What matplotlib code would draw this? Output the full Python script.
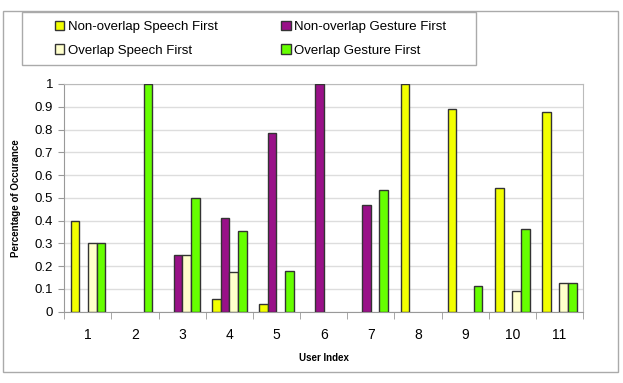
import numpy as np
import matplotlib
matplotlib.use("Agg")
import matplotlib.pyplot as plt
from matplotlib.patches import Patch, Rectangle

plt.rcParams['font.family'] = ['Liberation Sans', 'DejaVu Sans']

# data
users = ['1', '2', '3', '4', '5', '6', '7', '8', '9', '10', '11']
nonoverlap_speech = [0.4, 0, 0, 0.056, 0.034, 0, 0, 1.0, 0.889, 0.545, 0.875]
nonoverlap_gesture = [0, 0, 0.25, 0.412, 0.786, 1.0, 0.467, 0, 0, 0, 0]
overlap_speech = [0.3, 0, 0.25, 0.176, 0, 0, 0, 0, 0, 0.091, 0.125]
overlap_gesture = [0.3, 1.0, 0.5, 0.353, 0.179, 0, 0.533, 0, 0.111, 0.364, 0.125]

series = [nonoverlap_speech, nonoverlap_gesture, overlap_speech, overlap_gesture]
names = ['Non-overlap Speech First', 'Non-overlap Gesture First',
         'Overlap Speech First', 'Overlap Gesture First']
colors = ['#F2FF00', '#991188', '#FFFFCC', '#66FF00']

fig = plt.figure(figsize=(6.23, 3.83), dpi=100)
ax = fig.add_axes([0.1032, 0.1862, 0.8326, 0.5945])

x = np.arange(len(users))
w = 0.184
for i, (vals, c) in enumerate(zip(series, colors)):
    vals = np.array(vals)
    m = vals > 0
    ax.bar(x[m] + (i - 1.5) * w, vals[m], w, color=c, edgecolor='#333333',
           linewidth=1.0, zorder=3)

ax.set_xlim(-0.5, len(users) - 0.5)
ax.set_ylim(0, 1)
ax.set_yticks(np.arange(0, 1.01, 0.1))
ax.set_yticklabels(['0', '0.1', '0.2', '0.3', '0.4', '0.5', '0.6', '0.7', '0.8', '0.9', '1'],
                   fontsize=9.5)
ax.set_xticks(x)
ax.set_xticklabels(users, fontsize=10)
ax.set_xticks(np.arange(-0.5, len(users)), minor=True)
ax.tick_params(axis='x', which='major', length=0, pad=12)
ax.tick_params(axis='x', which='minor', length=5, color='#999999', direction='out')
ax.tick_params(axis='y', length=4, color='#999999', pad=4)
ax.grid(axis='y', color='#DDDDDD', linewidth=1, zorder=0)
for s in ax.spines.values():
    s.set_color('#BBBBBB')
ax.spines['left'].set_color('#999999')
ax.spines['bottom'].set_color('#999999')

ax.set_xlabel('User Index', fontsize=7, fontweight='bold', labelpad=8)
ax.set_ylabel('Percentage of Occurance', fontsize=7, fontweight='bold', labelpad=10)

# legend box
fig.patches.append(Rectangle((22 / 623, 1 - 65 / 383), 454 / 623, 53 / 383,
                             transform=fig.transFigure, fill=False,
                             edgecolor='#AAAAAA', linewidth=1))
handles = [Patch(facecolor=c, edgecolor='#333333', label=n) for c, n in zip(colors, names)]
order = [0, 2, 1, 3]
fig.legend([handles[k] for k in order], [names[k] for k in order],
           loc='upper left', bbox_to_anchor=(43 / 623, 1 - 9 / 383), ncol=2,
           frameon=False, fontsize=9.5, handlelength=0.7, handleheight=0.7,
           handletextpad=0.3, columnspacing=4.8, labelspacing=0.85)

# outer frame
fig.patches.append(Rectangle((3 / 623, 11 / 383), 615 / 623, 361 / 383,
                             transform=fig.transFigure, fill=False,
                             edgecolor='#AAAAAA', linewidth=1))

fig.savefig('out.png', dpi=100)
